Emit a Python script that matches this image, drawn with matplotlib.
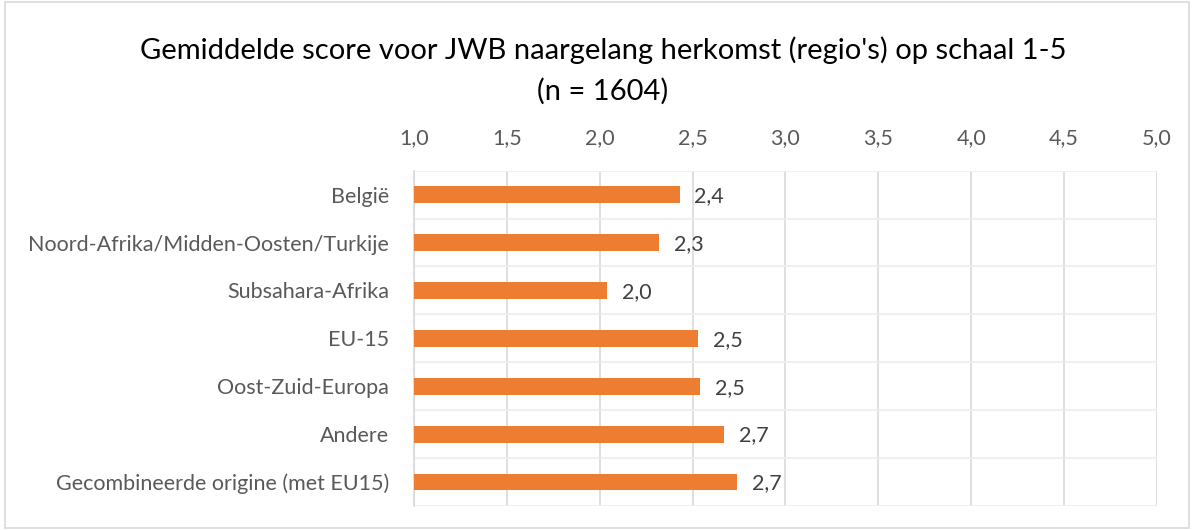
import numpy as np
import matplotlib.pyplot as plt
from matplotlib.patches import Rectangle

plt.rcParams['font.family'] = ['Lato', 'DejaVu Sans']

regio = ["België", "Noord-Afrika/Midden-Oosten/Turkije", "Subsahara-Afrika",
         "EU-15", "Oost-Zuid-Europa", "Andere", "Gecombineerde origine (met EU15)"]
score = [2.43, 2.32, 2.04, 2.53, 2.54, 2.67, 2.74]
labels = ["2,4", "2,3", "2,0", "2,5", "2,5", "2,7", "2,7"]
ticks = [1.0, 1.5, 2.0, 2.5, 3.0, 3.5, 4.0, 4.5, 5.0]

fig = plt.figure(figsize=(11.94, 5.30), dpi=100)
ax = fig.add_axes([0.3467, 0.0453, 0.969 - 0.3467, 0.678 - 0.0453])

y = np.arange(len(regio))
ax.barh(y, np.array(score) - 1.0, left=1.0, height=0.35, color="#ED7D31", zorder=3)
for yi, v, lab in zip(y, score, labels):
    ax.text(v + 0.08, yi + 0.03, lab, va="center", ha="left", fontsize=15.5, color="#404040")

ax.set_xlim(1.0, 5.0)
ax.set_ylim(len(regio) - 0.5, -0.5)
ax.set_xticks(ticks)
ax.set_xticklabels([f"{t:.1f}".replace(".", ",") for t in ticks], fontsize=15.5, color="#595959")
ax.xaxis.tick_top()
ax.set_yticks(y)
ax.set_yticklabels(regio, fontsize=15.5, color="#595959")
ax.tick_params(axis="x", length=0, pad=16)
ax.tick_params(axis="y", length=0, pad=18)

ax.set_yticks(np.arange(-0.5, len(regio)), minor=True)
ax.grid(axis="x", color="#D9D9D9", lw=1.2, zorder=0)
ax.grid(axis="y", which="minor", color="#EDEDED", lw=1.2, zorder=0)
ax.tick_params(which="minor", length=0)
for s in ["top", "right", "bottom"]:
    ax.spines[s].set_visible(False)
ax.spines["left"].set_color("#D9D9D9")
ax.spines["left"].set_linewidth(1.2)

fig.text(0.505, 0.905, "Gemiddelde score voor JWB naargelang herkomst (regio's) op schaal 1-5",
         ha="center", va="center", fontsize=21, color="#000000")
fig.text(0.505, 0.828, "(n = 1604)", ha="center", va="center", fontsize=21, color="#000000")

fig.patches.append(Rectangle((0.004, 0.004), 0.992, 0.992, transform=fig.transFigure,
                             fill=False, edgecolor="#D9D9D9", lw=1.2))

fig.savefig("out.png", dpi=100)
